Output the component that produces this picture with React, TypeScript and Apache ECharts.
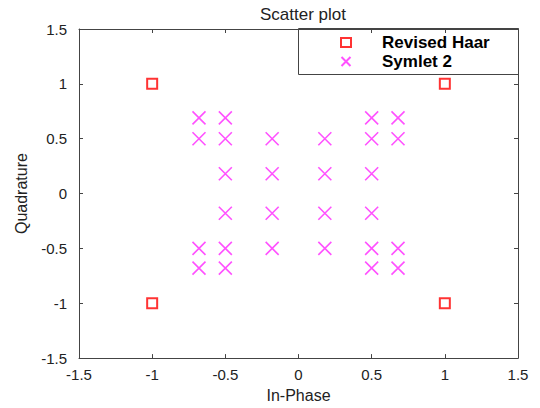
import React, { useEffect, useRef } from "react";
import * as echarts from "echarts";

const haarX = [-1, 1, -1, 1];
const haarY = [1, 1, -1, -1];

const symX = [
  -0.68, -0.5, 0.5, 0.68,
  -0.68, -0.5, -0.18, 0.18, 0.5, 0.68,
  -0.5, -0.18, 0.18, 0.5,
  -0.5, -0.18, 0.18, 0.5,
  -0.68, -0.5, -0.18, 0.18, 0.5, 0.68,
  -0.68, -0.5, 0.5, 0.68,
];
const symY = [
  0.69, 0.69, 0.69, 0.69,
  0.5, 0.5, 0.5, 0.5, 0.5, 0.5,
  0.18, 0.18, 0.18, 0.18,
  -0.18, -0.18, -0.18, -0.18,
  -0.5, -0.5, -0.5, -0.5, -0.5, -0.5,
  -0.68, -0.68, -0.68, -0.68,
];

const seriesNames = ["Revised Haar", "Symlet 2"];

const FONT = "Liberation Sans, Arial, sans-serif";

export default function App() {
  const ref = useRef<HTMLDivElement>(null);
  useEffect(() => {
    if (!ref.current) return;
    const chart = echarts.init(ref.current, undefined, { renderer: "svg" });
    const axisCommon = {
      type: "value" as const,
      min: -1.5,
      max: 1.5,
      interval: 0.5,
      splitLine: { show: false },
      axisLine: { show: true, onZero: false, lineStyle: { color: "#444", width: 1 } },
      axisTick: { show: true, inside: true, length: 4, lineStyle: { color: "#444" } },
    };
    const labelStyle = { color: "#222", fontSize: 15, fontFamily: FONT };
    chart.setOption({
      animation: false,
      backgroundColor: "#fff",
      title: {
        text: "Scatter plot",
        left: 298,
        textAlign: "center",
        top: 1,
        textStyle: { fontSize: 17, fontWeight: "normal", color: "#222", fontFamily: FONT },
      },
      grid: { left: 79, right: 22, top: 29, bottom: 45 },
      legend: {
        orient: "vertical",
        left: 334,
        top: 29,
        itemGap: 2,
        itemWidth: 10,
        itemHeight: 9,
        textStyle: { fontSize: 17, fontWeight: "bold", color: "#000", fontFamily: FONT, padding: [0, 0, 0, 26] },
        data: seriesNames,
      },
      graphic: [
        {
          type: "rect",
          shape: { x: 298.5, y: 28.5, width: 220, height: 46 },
          style: { fill: "none", stroke: "#444", lineWidth: 1 },
          z: 10,
        },
      ],
      xAxis: [
        {
          ...axisCommon,
          position: "bottom",
          name: "In-Phase",
          nameLocation: "middle",
          nameGap: 27,
          nameTextStyle: { fontSize: 16, color: "#222", fontFamily: FONT },
          axisLabel: { ...labelStyle, margin: 9 },
        },
        {
          ...axisCommon,
          position: "top",
          axisLabel: { show: false },
        },
      ],
      yAxis: [
        {
          ...axisCommon,
          position: "left",
          name: "Quadrature",
          nameLocation: "middle",
          nameGap: 50,
          nameTextStyle: { fontSize: 16, color: "#222", fontFamily: FONT },
          axisLabel: { ...labelStyle, margin: 12 },
        },
        {
          ...axisCommon,
          position: "right",
          axisLabel: { show: false },
        },
      ],
      series: [
        {
          name: seriesNames[0],
          type: "scatter",
          symbol: "rect",
          symbolSize: 10,
          itemStyle: { color: "#fff", borderColor: "#ff0000", borderWidth: 2 },
          data: haarX.map((x, i) => [x, haarY[i]]),
          z: 5,
        },
        {
          name: seriesNames[1],
          type: "scatter",
          symbol: "path://M0,0L10,10M10,0L0,10",
          symbolSize: 13,
          itemStyle: { color: "none", borderColor: "#ff33ff", borderWidth: 1.6, opacity: 0.85 },
          data: symX.map((x, i) => [x, symY[i]]),
        },
      ],
    });
    return () => chart.dispose();
  }, []);
  return (
    <div
      ref={ref}
      style={{ position: "fixed", left: 0, top: 0, width: 540, height: 408 }}
    />
  );
}
